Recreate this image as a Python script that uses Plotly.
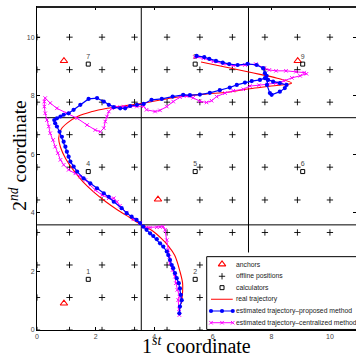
import plotly.graph_objects as go

# ---------------- data ----------------
offline_vals = [0, 1.11, 2.22, 3.33, 4.44, 5.56, 6.67, 7.78, 8.89, 10.0]

anchor_x = [0.92, 0.92, 4.13, 8.90]
anchor_y = [9.19, 0.91, 4.46, 9.19]

calc_x = [1.75, 5.40, 9.07, 1.75, 5.40, 9.07, 1.75, 5.40, 9.07]
calc_y = [1.73, 1.73, 1.73, 5.41, 5.41, 5.41, 9.08, 9.08, 9.08]
calc_labels = ["1", "2", "3", "4", "5", "6", "7", "8", "9"]

boundary_x = [3.56, 7.22]
boundary_y = [3.59, 7.25]

real_x = [4.93, 4.97, 4.97, 4.88, 4.70, 4.50, 4.27, 3.95, 3.56, 3.15, 2.75, 2.35, 1.95,
          1.58, 1.25, 0.98, 0.80, 0.74, 0.82, 1.05, 1.40, 1.85, 2.40, 3.00, 3.60, 4.30,
          5.00, 5.80, 6.50, 7.27, 8.00, 8.69, 8.20, 7.27, 6.42, 5.60]
real_y = [0.90, 1.30, 1.60, 2.00, 2.55, 2.85, 3.10, 3.38, 3.60, 3.85, 4.10, 4.38, 4.70,
          5.05, 5.45, 5.85, 6.25, 6.55, 6.85, 7.08, 7.30, 7.45, 7.57, 7.66, 7.74, 7.87,
          7.98, 8.06, 8.12, 8.24, 8.33, 8.43, 8.60, 8.80, 8.98, 9.15]

prop_x = [4.86, 4.88, 4.94, 4.91, 4.88, 4.84, 4.77, 4.71, 4.65, 4.60, 4.54, 4.48, 4.43,
          4.31, 4.20, 4.09, 3.97, 3.86, 3.74, 3.63, 3.52, 3.40, 3.23, 3.06, 2.89, 2.62,
          2.45, 2.28, 2.05, 1.82, 1.59, 1.37, 1.25, 1.14, 1.08, 1.02, 0.97, 0.91, 0.85,
          0.77, 0.68, 0.62, 0.59, 0.68, 0.80, 0.91, 1.08, 1.25, 1.48, 1.76, 2.05, 2.28,
          2.45, 2.62, 2.84, 3.01, 3.18, 3.41, 3.64, 3.91, 4.26, 4.63, 4.99, 5.22, 5.56,
          5.90, 6.24, 6.58, 6.82, 7.10, 7.33, 7.61, 7.78, 7.88, 7.85, 7.95, 8.01, 8.29,
          8.46, 8.52, 8.29, 8.06, 7.88, 7.84, 7.78, 7.72, 7.50, 7.19, 6.85, 6.56, 6.34,
          6.11, 5.88, 5.71, 5.45]
prop_y = [0.57, 0.80, 1.02, 1.20, 1.42, 1.60, 1.77, 1.94, 2.11, 2.22, 2.39, 2.56, 2.68,
          2.85, 2.96, 3.10, 3.21, 3.30, 3.42, 3.53, 3.65, 3.76, 3.87, 3.99, 4.16, 4.38,
          4.55, 4.67, 4.84, 5.01, 5.18, 5.41, 5.58, 5.75, 5.92, 6.09, 6.26, 6.43, 6.60,
          6.77, 6.95, 7.06, 7.17, 7.23, 7.29, 7.35, 7.40, 7.52, 7.69, 7.89, 7.92, 7.80,
          7.69, 7.61, 7.57, 7.57, 7.65, 7.69, 7.72, 7.86, 7.89, 7.97, 8.03, 8.02, 8.04,
          8.10, 8.19, 8.28, 8.37, 8.45, 8.50, 8.54, 8.60, 8.54, 8.37, 8.09, 8.03, 8.14,
          8.26, 8.37, 8.43, 8.48, 8.54, 8.68, 8.77, 8.94, 9.05, 9.09, 9.05, 9.08, 9.13,
          9.19, 9.26, 9.32, 9.36]

cent_x = [4.86, 4.85, 4.82, 4.86, 4.79, 4.74, 4.71, 4.63, 4.54, 4.52, 4.48, 4.43, 4.37,
          4.31, 4.20, 4.09, 3.86, 3.74, 3.63, 3.52, 3.29, 3.06, 2.83, 2.73, 2.62, 2.45,
          2.22, 1.99, 1.81, 1.65, 1.48, 1.31, 1.08, 0.91, 0.80, 0.71, 0.62, 0.55, 0.45,
          0.40, 0.34, 0.28, 0.25, 0.25, 0.28, 0.45, 0.68, 1.02, 1.37, 1.71, 1.99, 2.16,
          2.28, 2.33, 2.39, 2.45, 2.56, 2.73, 2.96, 3.18, 3.41, 3.64, 3.74, 4.03, 4.20,
          4.43, 4.65, 4.88, 5.11, 5.33, 5.56, 5.79, 5.96, 6.13, 6.42, 6.70, 7.04, 7.27,
          7.58, 7.88, 8.16, 8.43, 8.70, 8.98, 9.20, 9.12, 8.84, 8.50, 8.16, 7.93, 7.76,
          7.47, 7.10, 6.70, 6.36, 6.02, 5.68, 5.39]
cent_y = [0.51, 0.71, 1.02, 1.14, 1.37, 1.60, 1.82, 2.05, 2.28, 2.50, 2.73, 3.07, 3.42,
          3.53, 3.52, 3.51, 3.50, 3.50, 3.53, 3.65, 3.78, 4.01, 4.24, 4.38, 4.50, 4.50,
          4.61, 4.78, 4.95, 5.12, 5.24, 5.35, 5.47, 5.64, 5.81, 6.04, 6.26, 6.49, 6.72,
          6.95, 7.17, 7.40, 7.63, 7.80, 7.92, 7.75, 7.57, 7.40, 7.23, 7.00, 6.83, 6.77,
          6.89, 7.12, 7.29, 7.46, 7.57, 7.61, 7.63, 7.63, 7.63, 7.64, 7.52, 7.46, 7.50,
          7.63, 7.80, 7.95, 7.99, 7.93, 7.81, 7.77, 7.83, 7.97, 8.09, 8.17, 8.22, 8.33,
          8.36, 8.39, 8.43, 8.51, 8.61, 8.68, 8.75, 8.79, 8.82, 8.85, 8.85, 8.88, 8.94,
          9.08, 9.05, 9.03, 9.09, 9.17, 9.28, 9.32]

legend_labels = ["anchors", "offline positions", "calculators", "real trajectory",
                 "estimated trajectory\u2013proposed method",
                 "estimated trajectory\u2013centralized method"]

# ---------------- figure ----------------
RED = "#ff0000"
BLUE = "#0000ff"
MAG = "#ff00ff"

fig = go.Figure()

grid_x = [gx for gx in offline_vals for gy in offline_vals]
grid_y = [gy for gx in offline_vals for gy in offline_vals]
fig.add_trace(go.Scatter(x=grid_x, y=grid_y, mode="markers",
                         marker=dict(symbol="cross-thin", size=4.5, line=dict(color="black", width=0.9)),
                         showlegend=False, hoverinfo="skip"))

fig.add_trace(go.Scatter(x=anchor_x, y=anchor_y, mode="markers",
                         marker=dict(symbol="triangle-up-open", size=6.5, color=RED, line=dict(width=1.1)),
                         showlegend=False))

fig.add_trace(go.Scatter(x=calc_x, y=calc_y, mode="markers+text", text=calc_labels,
                         textposition="top center",
                         textfont=dict(size=7, color="#444", family="Liberation Sans"),
                         marker=dict(symbol="square-open", size=4, color="black", line=dict(width=1)),
                         showlegend=False))

fig.add_trace(go.Scatter(x=real_x, y=real_y, mode="lines", line=dict(color=RED, width=1.1, shape="spline"),
                         showlegend=False))

fig.add_trace(go.Scatter(x=cent_x, y=cent_y, mode="lines+markers",
                         line=dict(color=MAG, width=1.0),
                         marker=dict(symbol="x-thin", size=3.5, line=dict(color=MAG, width=1)),
                         showlegend=False))

fig.add_trace(go.Scatter(x=prop_x, y=prop_y, mode="lines+markers",
                         line=dict(color=BLUE, width=1.2),
                         marker=dict(symbol="circle", size=4.2, color=BLUE),
                         showlegend=False))

# ---- manual legend (separate small subplot) ----
row_y = [0.848, 0.693, 0.546, 0.396, 0.245, 0.094]
sym_x = 0.125
fig.add_trace(go.Scatter(x=[0.025, 1.2, 1.2, 0.025, 0.025], y=[0.007, 0.007, 0.946, 0.946, 0.007],
                         mode="lines", fill="toself", fillcolor="white",
                         line=dict(color="black", width=1), xaxis="x2", yaxis="y2",
                         showlegend=False, hoverinfo="skip"))
fig.add_trace(go.Scatter(x=[sym_x], y=[row_y[0]], mode="markers", xaxis="x2", yaxis="y2",
                         marker=dict(symbol="triangle-up-open", size=6.5, color=RED, line=dict(width=1.1)),
                         showlegend=False))
fig.add_trace(go.Scatter(x=[sym_x], y=[row_y[1]], mode="markers", xaxis="x2", yaxis="y2",
                         marker=dict(symbol="cross-thin", size=4.5, line=dict(color="black", width=0.9)),
                         showlegend=False))
fig.add_trace(go.Scatter(x=[sym_x], y=[row_y[2]], mode="markers", xaxis="x2", yaxis="y2",
                         marker=dict(symbol="square-open", size=4, color="black", line=dict(width=1)),
                         showlegend=False))
fig.add_trace(go.Scatter(x=[0.053, 0.195], y=[row_y[3]] * 2, mode="lines", xaxis="x2", yaxis="y2",
                         line=dict(color=RED, width=1.1), showlegend=False))
fig.add_trace(go.Scatter(x=[0.053, sym_x, 0.195], y=[row_y[4]] * 3, mode="lines+markers", xaxis="x2", yaxis="y2",
                         line=dict(color=BLUE, width=1.2), marker=dict(symbol="circle", size=4.2, color=BLUE),
                         showlegend=False))
fig.add_trace(go.Scatter(x=[0.053, sym_x, 0.195], y=[row_y[5]] * 3, mode="lines+markers", xaxis="x2", yaxis="y2",
                         line=dict(color=MAG, width=1.0),
                         marker=dict(symbol="x-thin", size=3.5, line=dict(color=MAG, width=1)),
                         showlegend=False))

annotations = []
for lbl, ry in zip(legend_labels, row_y):
    annotations.append(dict(x=0.205, y=ry, xref="x2", yref="y2", text=lbl, showarrow=False,
                            xanchor="left", yanchor="middle",
                            font=dict(size=6.8, color="#222", family="Liberation Sans")))

annotations.append(dict(x=0.5, y=-0.045, xref="paper", yref="paper",
                        text="1<sup><i>st</i></sup> coordinate", showarrow=False,
                        xanchor="center", yanchor="middle",
                        font=dict(size=20, color="black", family="Liberation Serif")))
annotations.append(dict(x=-0.062, y=0.54, xref="paper", yref="paper",
                        text="2<sup><i>nd</i></sup> coordinate", showarrow=False, textangle=-90,
                        xanchor="center", yanchor="middle",
                        font=dict(size=19.5, color="black", family="Liberation Serif")))

shapes = []
for bx in boundary_x:
    shapes.append(dict(type="line", xref="x", yref="paper", x0=bx, x1=bx, y0=0, y1=1,
                       line=dict(color="black", width=1), layer="below"))
for by in boundary_y:
    shapes.append(dict(type="line", xref="paper", yref="y", x0=0, x1=1, y0=by, y1=by,
                       line=dict(color="black", width=1), layer="below"))
shapes.append(dict(type="line", xref="paper", yref="paper", x0=0, x1=1, y0=1, y1=1,
                   line=dict(color="#222", width=2.2), layer="above"))

axis_common = dict(ticks="inside", ticklen=3, tickwidth=1, tickcolor="black",
                   showline=True, linecolor="black", linewidth=1, mirror="ticks",
                   showgrid=False, zeroline=False,
                   tickfont=dict(size=7, color="#444", family="Liberation Sans"))

fig.update_layout(
    width=356, height=354,
    margin=dict(l=37, r=0, t=7, b=24),
    paper_bgcolor="white", plot_bgcolor="white",
    showlegend=False,
    xaxis=dict(range=[0, 10.89], tickvals=[0, 2, 4, 6, 8, 10], **axis_common),
    yaxis=dict(range=[0, 11.03], tickvals=[0, 2, 4, 6, 8, 10], **axis_common),
    xaxis2=dict(domain=[0.52, 1.0], range=[0, 1], anchor="y2", visible=False, fixedrange=True),
    yaxis2=dict(domain=[0.0, 0.24], range=[0, 1], anchor="x2", visible=False, fixedrange=True),
    annotations=annotations,
    shapes=shapes,
)

fig.write_html("out.html", config={"displayModeBar": False, "staticPlot": True},
               post_script="document.body.style.margin='0px';document.body.style.overflow='hidden';")
